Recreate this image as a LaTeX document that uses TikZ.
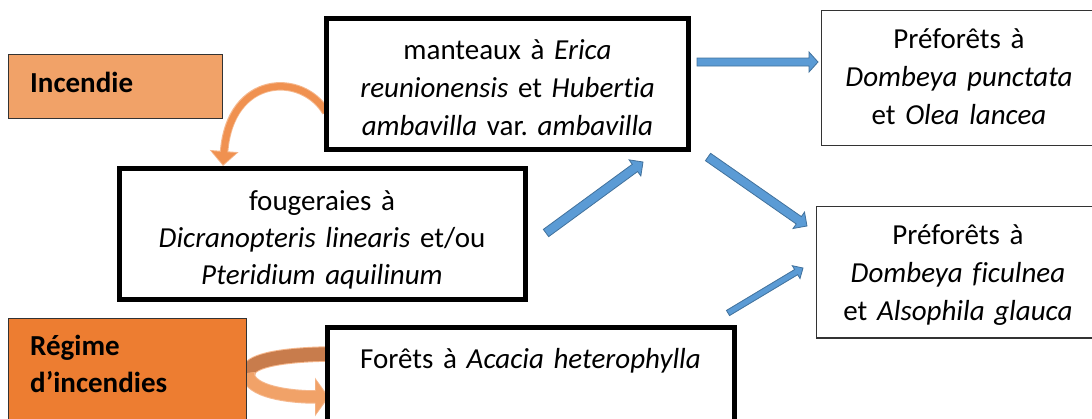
\documentclass[tikz,border=0pt]{standalone}
\usepackage{fontspec}
\setmainfont{Carlito}[Ligatures=NoCommon]
\usetikzlibrary{calc,arrows.meta}

\definecolor{flame}{RGB}{237,125,49}
\definecolor{flamelight}{RGB}{241,162,104}
\definecolor{flamedark}{RGB}{200,124,76}
\definecolor{arrowblue}{RGB}{91,155,213}
\definecolor{arrowedge}{RGB}{65,113,156}

% straight block arrow: start, tip, half shaft, half head, head length
\newcommand\blockarrow[5]{%
	\coordinate (ba-b) at ($(#2)!#5!(#1)$);
	\draw[bluearrow] ($(#1)!#3!90:(#2)$) -- ($(ba-b)!#3!-90:(#1)$) -- ($(ba-b)!#4!-90:(#1)$) -- (#2)
		-- ($(ba-b)!#4!90:(#1)$) -- ($(ba-b)!#3!90:(#1)$) -- ($(#1)!#3!-90:(#2)$) -- cycle;}

\frenchspacing
\begin{document}
\begin{tikzpicture}[x=1pt,y=-1pt,
	every node/.style={font=\fontsize{29}{38}\selectfont, inner sep=0pt},
	thickbox/.style={draw, line width=4.5pt, fill=white},
	thinbox/.style={draw=black!80, line width=1.2pt},
	midtxt/.style={anchor=base, text width=400pt, align=center},
	lefttxt/.style={anchor=base west, text width=200pt, align=left, font=\fontsize{29}{37}\selectfont\bfseries},
	bluearrow/.style={fill=arrowblue, draw=arrowedge, line width=0.8pt}]
	\useasboundingbox (0,0) rectangle (1092,418);
	\clip (0,0) rectangle (1092,418);

	% curved fire arrows (under the boxes)
	\coordinate (fire-s) at (326,112);
	\coordinate (fire-t) at (223,166);
	\draw[line width=8.5pt, flame!55!white, -{Triangle[length=15pt,width=28pt]}] (fire-s) .. controls (302,72) and (230,74) .. (fire-t);
	\draw[line width=6.5pt, flame!85!white, shorten >=1.5pt, -{Triangle[length=12.5pt,width=24pt]}] (fire-s) .. controls (302,72) and (230,74) .. (fire-t);

	\coordinate (cycle-s) at (328,354);
	\coordinate (cycle-m) at (248,373);
	\coordinate (cycle-t) at (329,397);
	\draw[line width=15.5pt, flame!55!white] (cycle-s) .. controls (275,355) and (248,362) .. (cycle-m);
	\draw[line width=13.5pt, flamedark] (cycle-s) .. controls (275,355) and (248,362) .. (cycle-m);
	\draw[line width=13.5pt, flame!55!white, -{Triangle[length=14pt,width=38pt]}] (cycle-m) .. controls (248,392) and (290,397) .. (cycle-t);
	\draw[line width=11.5pt, flamelight, shorten >=1.5pt, -{Triangle[length=12pt,width=34pt]}] (cycle-m) .. controls (248,392) and (290,397) .. (cycle-t);

	% boxes
	\node[thinbox, fill=flamelight, minimum width=214pt, minimum height=64pt] (incendie) at (115.5,86.5) {};
	\node[thinbox, fill=flame, minimum width=238pt, minimum height=121.5pt] (regime) at (127.5,379.25) {};
	\node[thickbox, minimum width=362pt, minimum height=131pt] (manteaux) at (507.5,84) {};
	\node[thickbox, minimum width=406pt, minimum height=131pt] (fougeraies) at (322.5,234) {};
	\node[thickbox, minimum width=407pt, minimum height=122.5pt] (acacia) at (531,388.75) {};
	\node[thinbox, fill=white, minimum width=274.5pt, minimum height=135pt] (prefa) at (958.75,78) {};
	\node[thinbox, fill=white, minimum width=279.5pt, minimum height=131.5pt] (prefb) at (956.25,272.25) {};

	% texts
	\node[lefttxt] (incendie-t) at (30,92) {Incendie};
	\node[lefttxt] (regime-t) at (30,355) {Régime\\d’incendies};
	\node[midtxt] (manteaux-t) at (507.5,59) {manteaux à \textit{Erica}\\\textit{reunionensis} et \textit{Hubertia}\\\textit{ambavilla} var. \textit{ambavilla}};
	\node[midtxt, font=\fontsize{29}{37}\selectfont] (fougeraies-t) at (322,210) {fougeraies à\\\textit{Dicranopteris linearis} et/ou\\\textit{Pteridium aquilinum}};
	\node[midtxt] (acacia-t) at (530.5,368) {Forêts à \textit{Acacia heterophylla}};
	\node[midtxt] (prefa-t) at (959,48) {Préforêts à\\\textit{Dombeya punctata}\\et \textit{Olea lancea}};
	\node[midtxt] (prefb-t) at (958,244) {Préforêts à\\\textit{Dombeya ficulnea}\\et \textit{Alsophila glauca}};

	% blue arrows
	\coordinate (ma-s) at (697,62);  \coordinate (ma-t) at (818,62);
	\coordinate (fo-s) at (546,233); \coordinate (fo-t) at (643,162);
	\coordinate (mb-s) at (708,157); \coordinate (mb-t) at (807,226);
	\coordinate (ac-s) at (728,313); \coordinate (ac-t) at (803,268);
	\foreach \s/\t/\w/\h/\l in {ma-s/ma-t/4pt/10pt/9pt, fo-s/fo-t/4.5pt/10pt/10pt, mb-s/mb-t/4.5pt/10pt/10pt, ac-s/ac-t/3pt/7.5pt/8pt}
		{\blockarrow{\s}{\t}{\w}{\h}{\l}}
\end{tikzpicture}
\end{document}
